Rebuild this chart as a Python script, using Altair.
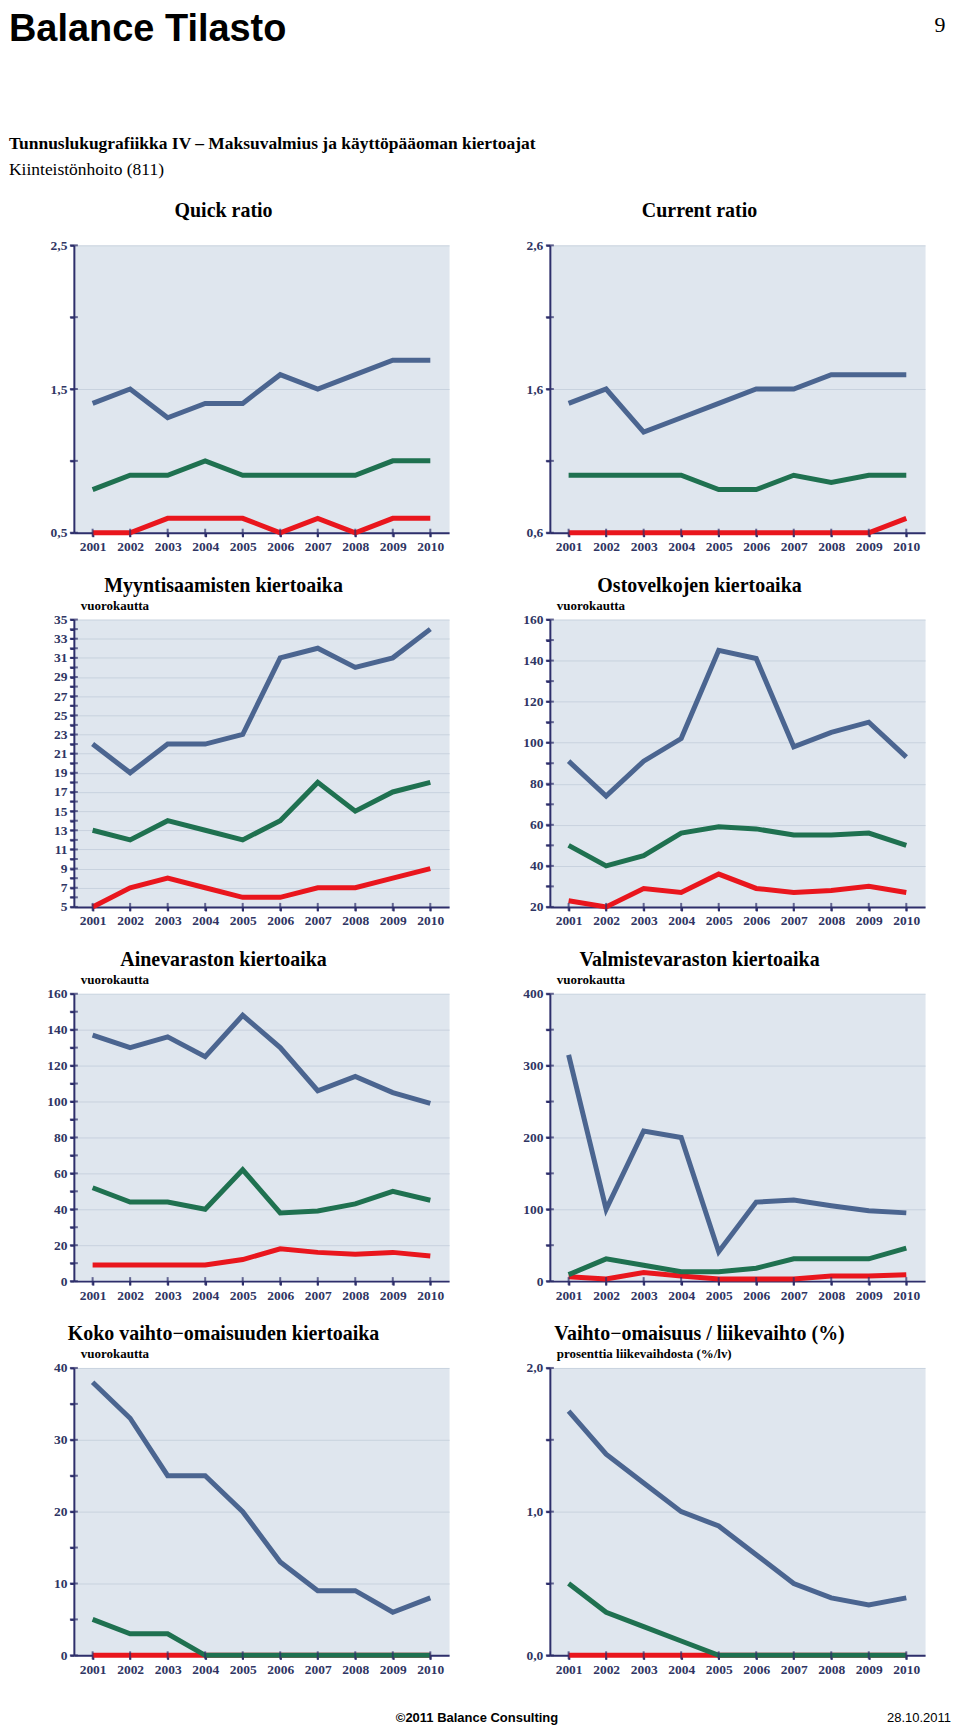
import altair as alt
import pandas as pd

years = [2001, 2002, 2003, 2004, 2005, 2006, 2007, 2008, 2009, 2010]

# Quick ratio
qr_blue = [1.4, 1.5, 1.3, 1.4, 1.4, 1.6, 1.5, 1.6, 1.7, 1.7]
qr_green = [0.8, 0.9, 0.9, 1.0, 0.9, 0.9, 0.9, 0.9, 1.0, 1.0]
qr_red = [0.5, 0.5, 0.6, 0.6, 0.6, 0.5, 0.6, 0.5, 0.6, 0.6]
qr_ticks = [0.5, 1.0, 1.5, 2.0, 2.5]
qr_labels = [0.5, 1.5, 2.5]

# Current ratio
cr_blue = [1.5, 1.6, 1.3, 1.4, 1.5, 1.6, 1.6, 1.7, 1.7, 1.7]
cr_green = [1.0, 1.0, 1.0, 1.0, 0.9, 0.9, 1.0, 0.95, 1.0, 1.0]
cr_red = [0.6, 0.6, 0.6, 0.6, 0.6, 0.6, 0.6, 0.6, 0.6, 0.7]
cr_ticks = [0.6, 1.1, 1.6, 2.1, 2.6]
cr_labels = [0.6, 1.6, 2.6]

# Myyntisaamisten kiertoaika
ms_blue = [22, 19, 22, 22, 23, 31, 32, 30, 31, 34]
ms_green = [13, 12, 14, 13, 12, 14, 18, 15, 17, 18]
ms_red = [5, 7, 8, 7, 6, 6, 7, 7, 8, 9]
ms_ticks = list(range(5, 36))
ms_labels = list(range(5, 36, 2))

# Ostovelkojen kiertoaika
ov_blue = [91, 74, 91, 102, 145, 141, 98, 105, 110, 93]
ov_green = [50, 40, 45, 56, 59, 58, 55, 55, 56, 50]
ov_red = [23, 20, 29, 27, 36, 29, 27, 28, 30, 27]
ov_ticks = list(range(20, 161, 10))
ov_labels = list(range(20, 161, 20))

# Ainevaraston kiertoaika
av_blue = [137, 130, 136, 125, 148, 130, 106, 114, 105, 99]
av_green = [52, 44, 44, 40, 62, 38, 39, 43, 50, 45]
av_red = [9, 9, 9, 9, 12, 18, 16, 15, 16, 14]
av_ticks = list(range(0, 161, 10))
av_labels = list(range(0, 161, 20))

# Valmistevaraston kiertoaika
vv_blue = [315, 100, 209, 200, 41, 110, 113, 105, 98, 95]
vv_green = [9, 31, 22, 13, 13, 18, 31, 31, 31, 46]
vv_red = [6, 3, 12, 7, 3, 3, 3, 7, 7, 9]
vv_ticks = list(range(0, 401, 50))
vv_labels = list(range(0, 401, 100))

# Koko vaihto-omaisuuden kiertoaika
kv_blue = [38, 33, 25, 25, 20, 13, 9, 9, 6, 8]
kv_green = [5, 3, 3, 0, 0, 0, 0, 0, 0, 0]
kv_red = [0, 0, 0, 0, 0, 0, 0, 0, 0, 0]
kv_ticks = list(range(0, 41, 5))
kv_labels = list(range(0, 41, 10))

# Vaihto-omaisuus / liikevaihto (%)
vl_blue = [1.7, 1.4, 1.2, 1.0, 0.9, 0.7, 0.5, 0.4, 0.35, 0.4]
vl_green = [0.5, 0.3, 0.2, 0.1, 0, 0, 0, 0, 0, 0]
vl_red = [0, 0, 0, 0, 0, 0, 0, 0, 0, 0]
vl_ticks = [0.0, 0.5, 1.0, 1.5, 2.0]
vl_labels = [0.0, 1.0, 2.0]

BLUE = "#4b6590"
GREEN = "#1f7150"
RED = "#e9161d"
NAVY = "#2e2f6b"
LABEL = "#2f3563"
BG = "#dfe6ee"
GRID = "#c8d2de"
SERIF = "Liberation Serif"
SANS = "Liberation Sans"
W, H = 376, 288
LBL = 13.5
TICK = 4


def label_exprs(labeled, dec):
    arr = "[" + ",".join(repr(v) for v in labeled) + "]"
    test = f"indexof({arr}, datum.value) >= 0"
    if dec:
        f = f"replace(format(datum.value, '.{dec}f'), '.', ',')"
    else:
        f = "format(datum.value, 'd')"
    return f"{test} ? {f} : ''", test


def yaxis(ticks, labeled, dec):
    expr, test = label_exprs(labeled, dec)
    return alt.Axis(
        values=ticks, labelExpr=expr, title=None, grid=True,
        gridColor=GRID, gridWidth=1,
        gridOpacity={"condition": {"test": test, "value": 1}, "value": 0},
        domainColor=NAVY, domainWidth=2, tickColor=NAVY, tickWidth=2, tickSize=TICK,
        labelPadding=3, labelFont=SERIF, labelFontWeight="bold", labelFontSize=LBL,
        labelColor=LABEL, labelOverlap=False,
    )


xaxis = alt.Axis(
    title=None, labelAngle=0, grid=False,
    domainColor=NAVY, domainWidth=2, tickColor=NAVY, tickWidth=2, tickSize=TICK,
    labelPadding=3, labelFont=SERIF, labelFontWeight="bold", labelFontSize=LBL,
    labelColor=LABEL,
)


def txt(text, x, y, size, weight="normal", font=SERIF, align="left", color="black"):
    return alt.Chart(alt.Data(values=[{"a": 1}])).mark_text(
        text=text, align=align, baseline="alphabetic", font=font,
        fontSize=size, fontWeight=weight, color=color,
    ).encode(x=alt.value(x), y=alt.value(y))


def panel(blue, green, red, domain, ticks, labeled, dec, title, subtitle=None, extra=()):
    df = pd.DataFrame({"year": years, "blue": blue, "green": green, "red": red})
    base = alt.Chart(df)
    x = alt.X("year:O", scale=alt.Scale(type="point", padding=0.5), axis=xaxis)
    yscale = alt.Scale(domain=domain, nice=False, zero=False)
    layers = []
    for name, col in [("blue", BLUE), ("red", RED), ("green", GREEN)]:
        layers.append(
            base.mark_line(color=col, strokeWidth=5, strokeCap="butt", strokeJoin="miter").encode(
                x=x,
                y=alt.Y(f"{name}:Q", scale=yscale, axis=yaxis(ticks, labeled, dec)),
            )
        )
    # inner halves of the axis ticks (ticks cross the axis lines)
    tdf = pd.DataFrame({"tick": ticks})
    layers.append(
        alt.Chart(tdf).mark_tick(orient="horizontal", color=NAVY, thickness=2, size=TICK * 2).encode(
            x=alt.value(0),
            y=alt.Y("tick:Q", scale=yscale, axis=yaxis(ticks, labeled, dec)),
        )
    )
    layers.append(
        base.mark_tick(orient="vertical", color=NAVY, thickness=2, size=TICK * 2).encode(
            x=x, y=alt.value(H),
        )
    )
    texts = [txt(title, 150, -28, 20, weight="bold", align="center")]
    if subtitle:
        texts.append(txt(subtitle, 7, -10, 13, weight="bold"))
    texts.extend(extra)
    return alt.layer(*layers, *texts).properties(width=W, height=H)


header = [
    txt("Balance Tilasto", -65, -205, 38, weight="bold", font=SANS),
    txt("9", 868, -214, 22, align="center"),
    txt("Tunnuslukugrafiikka IV \u2013 Maksuvalmius ja käyttöpääoman kiertoajat", -65, -97, 17.5, weight="bold"),
    txt("Kiinteistönhoito (811)", -65, -70, 17.5),
]
footer_left = [txt("\u00a92011 Balance Consulting", 404, 355, 13, weight="bold", font=SANS, align="center")]
footer_right = [txt("28.10.2011", 402, 355, 13, font=SANS, align="right")]

p1 = panel(qr_blue, qr_green, qr_red, [0.5, 2.5], qr_ticks, qr_labels, 1, "Quick ratio", extra=header)
p2 = panel(cr_blue, cr_green, cr_red, [0.6, 2.6], cr_ticks, cr_labels, 1, "Current ratio")
p3 = panel(ms_blue, ms_green, ms_red, [5, 35], ms_ticks, ms_labels, 0,
           "Myyntisaamisten kiertoaika", "vuorokautta")
p4 = panel(ov_blue, ov_green, ov_red, [20, 160], ov_ticks, ov_labels, 0,
           "Ostovelkojen kiertoaika", "vuorokautta")
p5 = panel(av_blue, av_green, av_red, [0, 160], av_ticks, av_labels, 0,
           "Ainevaraston kiertoaika", "vuorokautta")
p6 = panel(vv_blue, vv_green, vv_red, [0, 400], vv_ticks, vv_labels, 0,
           "Valmistevaraston kiertoaika", "vuorokautta")
p7 = panel(kv_blue, kv_green, kv_red, [0, 40], kv_ticks, kv_labels, 0,
           "Koko vaihto\u2212omaisuuden kiertoaika", "vuorokautta", extra=footer_left)
p8 = panel(vl_blue, vl_green, vl_red, [0, 2], vl_ticks, vl_labels, 1,
           "Vaihto\u2212omaisuus / liikevaihto (%)", "prosenttia liikevaihdosta (%/lv)", extra=footer_right)

chart = alt.concat(
    p1, p2, p3, p4, p5, p6, p7, p8,
    columns=2, spacing={"row": 87, "column": 101}, bounds="flush",
).properties(padding=0).configure_view(fill=BG, stroke="transparent")

chart.save("out.html", embed_options={"renderer": "svg", "actions": False})
